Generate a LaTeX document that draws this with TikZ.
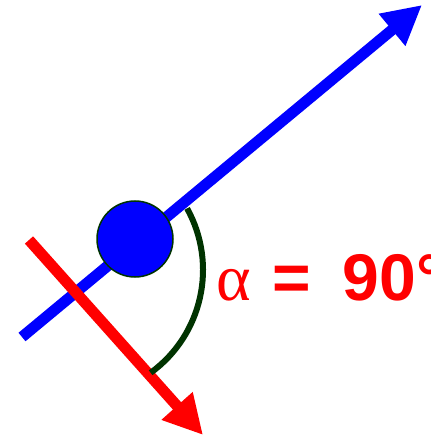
\documentclass[tikz,border=0pt]{standalone}
\usepackage{fontspec}
\setmainfont{Liberation Sans}
\newfontfamily\fontegrega{Liberation Serif}
\usetikzlibrary{arrows.meta}
\usepackage{xcolor}
\definecolor{azul}{RGB}{0, 0, 255}
\definecolor{vermelho}{RGB}{255, 0, 0}
\definecolor{verdeescuro}{RGB}{0, 51, 0}
\tikzset{
  vetor/.style={line width=11pt, -{Triangle[length=39pt, width=39pt]}},
  vetorAzul/.style={vetor, azul},
  vetorVerm/.style={vetor, vermelho},
  massa/.style={circle, fill=azul, draw=verdeescuro, line width=1.5pt,
    minimum size=76pt, inner sep=0pt},
  arco/.style={verdeescuro, line width=6pt},
  rotulo/.style={text=vermelho, anchor=base west, inner sep=0pt,
    font=\fontsize{66}{66}\selectfont\bfseries},
}

\begin{document}
\begin{tikzpicture}[x=1pt, y=-1pt]
\useasboundingbox (0,0) rectangle (430,438);

% Pontos
\coordinate (origemAzul) at (22,337);
\coordinate (pontaAzul) at (422,5);
\coordinate (origemVerm) at (29,240);
\coordinate (pontaVerm) at (203,435);
\coordinate (centroArco) at (76,270);

% Vetores
\draw[vetorAzul] (origemAzul) -- (pontaAzul);
\draw[vetorVerm] (origemVerm) -- (pontaVerm);

% Massa
\node[massa] (bola) at (135,239) {};

% Angulo
\draw[arco] (centroArco) ++(-29:127) arc[start angle=-29, end angle=54, radius=127];
\node[rotulo] (alfa) at (216,300) {{\fontegrega\mdseries α}\hspace{3pt} =\hspace{14pt} 90°};

\end{tikzpicture}
\end{document}
